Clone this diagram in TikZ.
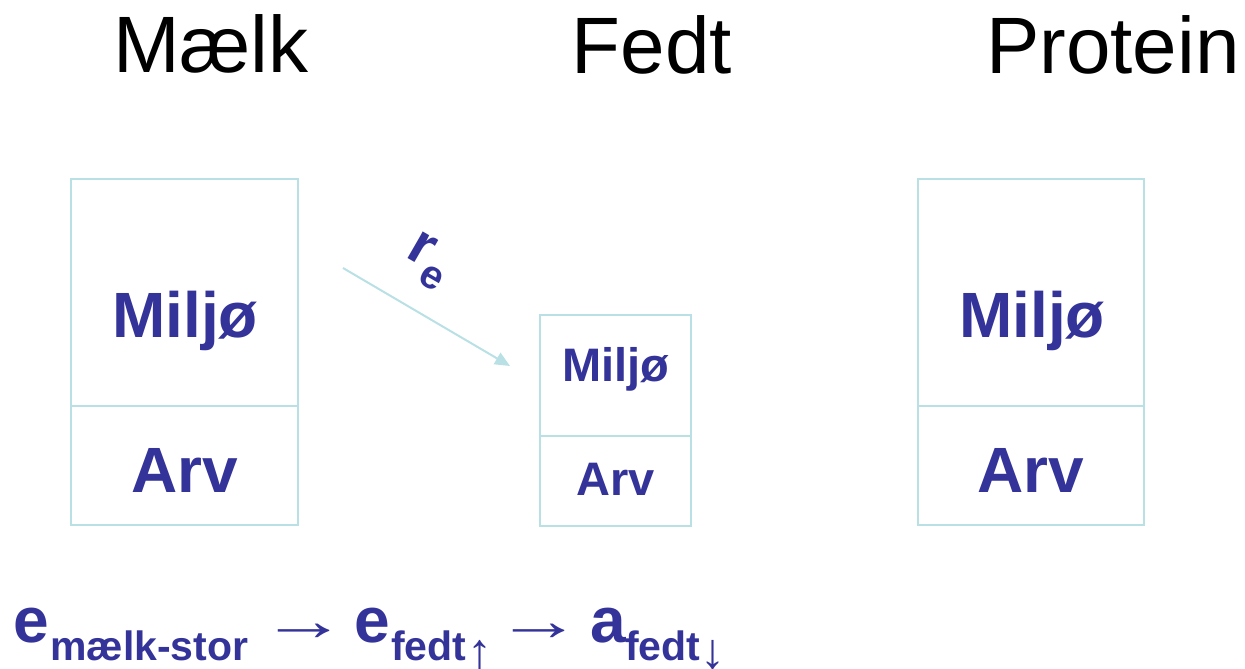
\documentclass[tikz,border=0pt]{standalone}
\usepackage{fontspec}
\setmainfont{Liberation Sans}
\usetikzlibrary{arrows.meta}
\definecolor{ink}{HTML}{333399}
\definecolor{frame}{HTML}{B9E0E4}
\newcommand{\fsz}[1]{\fontsize{#1}{#1}\selectfont}
\newcommand{\longto}{\scalebox{1.5}[1]{→}}

\begin{document}
\begin{tikzpicture}[x=1pt,y=-1pt,
  cell/.style={draw=frame, line width=2pt, inner sep=0, outer sep=0},
  title/.style={font=\fsz{80}, anchor=base, inner sep=0},
  bigtxt/.style={text=ink, font=\fsz{64}\bfseries, anchor=base, inner sep=0},
  smalltxt/.style={text=ink, font=\fsz{47}\bfseries, anchor=base, inner sep=0},
  bigsym/.style={text=ink, font=\fsz{64}\bfseries, anchor=base west, inner sep=0},
  subsym/.style={text=ink, font=\fsz{41}\bfseries, anchor=base west, inner sep=0},
  relarrow/.style={text=ink, font=\fsz{58}, anchor=base west, inner sep=0},
  vertarrow/.style={text=ink, font=\fsz{50}, anchor=base west, inner sep=0},
  link/.style={draw=frame, line width=2pt, -{Triangle[length=15pt,width=13pt]}}]
\useasboundingbox (0,0) rectangle (1245,669);

% column titles
\node[title] (tM) at (211,73) {Mælk};
\node[title] (tF) at (652,74) {Fedt};
\node[title] (tP) at (1113,74) {Protein};

% Mælk: environment over heredity
\node[cell, minimum width=227, minimum height=227] (mEnv) at (184.5,292.5) {};
\node[cell, minimum width=227, minimum height=119] (mGen) at (184.5,465.5) {};
\node[bigtxt] (mEnvT) at (185,337) {Miljø};
\node[bigtxt] (mGenT) at (184.5,492) {Arv};

% Fedt: smaller stack
\node[cell, minimum width=151, minimum height=121] (fEnv) at (615.5,375.5) {};
\node[cell, minimum width=151, minimum height=90] (fGen) at (615.5,481) {};
\node[smalltxt] (fEnvT) at (616,381) {Miljø};
\node[smalltxt] (fGenT) at (615.5,495) {Arv};

% Protein: same as Mælk
\node[cell, minimum width=226, minimum height=227] (pEnv) at (1031,292.5) {};
\node[cell, minimum width=226, minimum height=119] (pGen) at (1031,465.5) {};
\node[bigtxt] (pEnvT) at (1032,337) {Miljø};
\node[bigtxt] (pGenT) at (1031,492) {Arv};

% environmental correlation arrow
\coordinate (cStart) at (343,268);
\coordinate (cEnd) at (510,366);
\draw[link] (cStart) -- (cEnd);
\node[text=ink, font=\bfseries, inner sep=0, rotate=-30] (re) at (428,261)
  {{\fsz{58}r}{\fsz{40}\raisebox{-16pt}{e}}};

% chain of effects
\node[bigsym] (e1) at (13,642) {e};
\node[subsym] (s1) at (50,660) {mælk-stor};
\node[relarrow] (a1) at (260.5,640) {\longto};
\node[bigsym] (e2) at (354,642) {e};
\node[subsym] (s2) at (391,660) {fedt};
\node[vertarrow] (u2) at (467,668) {↑};
\node[relarrow] (a2) at (495.5,640) {\longto};
\node[bigsym] (e3) at (590,642) {a};
\node[subsym] (s3) at (625,660) {fedt};
\node[vertarrow] (d3) at (700,668) {↓};
\end{tikzpicture}
\end{document}
